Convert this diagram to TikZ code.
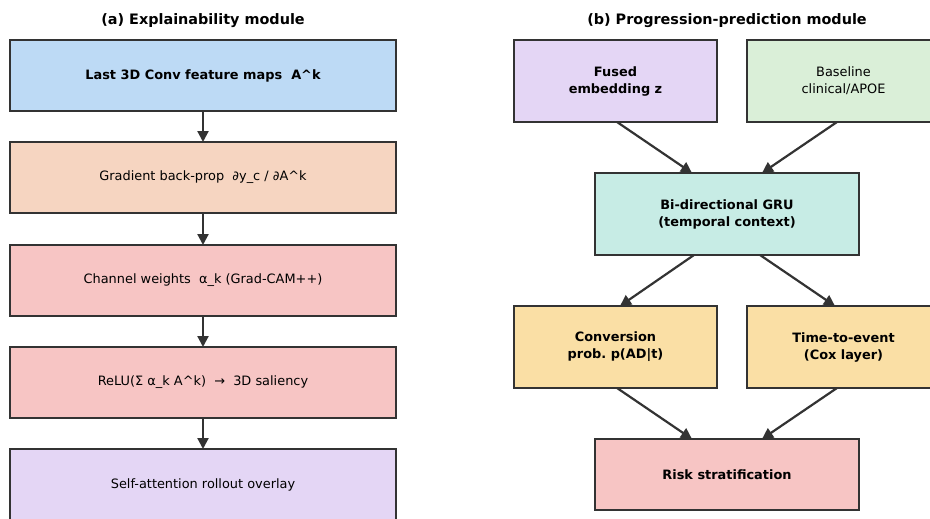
\documentclass[tikz,border=0pt]{standalone}
\usepackage{fontspec}
\setmainfont{DejaVu Sans}
\usetikzlibrary{arrows.meta}
\definecolor{edge}{HTML}{333333}
\definecolor{cblue}{HTML}{BDDAF5}
\definecolor{cpeach}{HTML}{F6D5C1}
\definecolor{cpink}{HTML}{F7C5C4}
\definecolor{clav}{HTML}{E4D6F5}
\definecolor{cgreen}{HTML}{DAEFD8}
\definecolor{cteal}{HTML}{C7ECE5}
\definecolor{cyel}{HTML}{FADFA5}
\begin{document}
\begin{tikzpicture}[x=1pt,y=-1pt,
  box/.style={draw=edge, line width=1.4pt, rectangle, align=center, inner sep=0pt, outer sep=0pt,
    font=\fontsize{12.9}{17}\selectfont, text=black},
  bbox/.style={box, font=\fontsize{12.9}{17}\selectfont\bfseries},
  lbox/.style={minimum width=386pt, minimum height=71pt},
  sbox/.style={minimum width=203pt, minimum height=82pt},
  rbox/.style={minimum width=193pt, minimum height=82pt},
  wbox/.style={minimum width=264pt},
  ttl/.style={font=\fontsize{14.4}{16}\selectfont\bfseries},
  arr/.style={draw=edge, line width=2.2pt, -{Triangle[length=11pt,width=11pt]}}]
\useasboundingbox (0,0) rectangle (930,519);
\clip (0,0) rectangle (930,519);
% titles
\node[ttl] (ta) at (203,21) {(a) Explainability module};
\node[ttl] (tb) at (727,21) {(b) Progression-prediction module};
% left column
\node[bbox, lbox, fill=cblue] (a1) at (203,75.5) {Last 3D Conv feature maps~~A\textasciicircum k};
\node[box, lbox, fill=cpeach] (a2) at (203,177.5) {Gradient back-prop~~∂y\_c / ∂A\textasciicircum k};
\node[box, lbox, fill=cpink] (a3) at (203,280.5) {Channel weights~~α\_k (Grad-CAM++)};
\node[box, lbox, fill=cpink] (a4) at (203,382.5) {ReLU(Σ α\_k A\textasciicircum k)~~→~~3D saliency};
\node[box, lbox, fill=clav] (a5) at (203,484.5) {Self-attention rollout overlay};
\draw[arr] (a1) -- (a2);
\draw[arr] (a2) -- (a3);
\draw[arr] (a3) -- (a4);
\draw[arr] (a4) -- (a5);
% right column
\node[bbox, sbox, fill=clav] (b1) at (615.5,81) {Fused\\embedding z};
\node[box, rbox, fill=cgreen] (b2) at (843.5,81) {Baseline\\clinical/APOE};
\node[bbox, wbox, minimum height=82pt, fill=cteal] (g) at (727,214) {Bi-directional GRU\\(temporal context)};
\node[bbox, sbox, fill=cyel] (c1) at (615.5,347) {Conversion\\prob.\ p(AD|t)};
\node[bbox, rbox, fill=cyel] (c2) at (843.5,347) {Time-to-event\\(Cox layer)};
\node[bbox, wbox, minimum height=71pt, fill=cpink] (r) at (727,474.5) {Risk stratification};
\draw[arr] ([xshift=1.5pt]b1.south) -- ([xshift=-35pt]g.north);
\draw[arr] ([xshift=-6.5pt]b2.south) -- ([xshift=35pt]g.north);
\draw[arr] ([xshift=-33pt]g.south) -- ([xshift=4.5pt]c1.north);
\draw[arr] ([xshift=33pt]g.south) -- ([xshift=-8.5pt]c2.north);
\draw[arr] ([xshift=1.5pt]c1.south) -- ([xshift=-35pt]r.north);
\draw[arr] ([xshift=-6.5pt]c2.south) -- ([xshift=35pt]r.north);
\end{tikzpicture}
\end{document}
